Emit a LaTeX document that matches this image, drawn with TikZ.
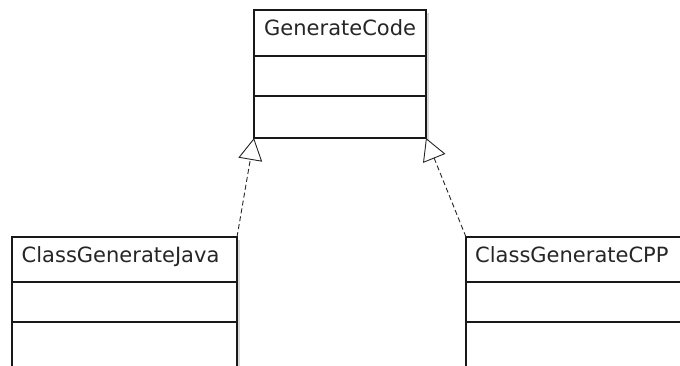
\documentclass[tikz,border=0pt]{standalone}
\usepackage{fontspec}
\setmainfont{DejaVu Sans}
\usetikzlibrary{arrows.meta}
\begin{document}
\begin{tikzpicture}[x=1pt,y=-1pt,
  classbox/.style={draw=black!90, line width=1.4pt, fill=white, anchor=north west,
    inner sep=0pt, outer sep=0pt},
  classname/.style={anchor=base west, inner sep=0pt, text=black!85,
    font=\fontsize{21}{24}\selectfont},
  shadowstrip/.style={fill=black!15, draw=none},
  divider/.style={draw=black!90, line width=1.4pt},
  realize/.style={draw=black!85, line width=0.9pt, dash pattern=on 5pt off 3pt,
    -{Triangle[open, length=22pt, width=24pt, line width=0.9pt, fill=white]}}
]
\clip (0,0) rectangle (680,365);
\useasboundingbox (0,0) rectangle (680,365);

% GenerateCode
\fill[shadowstrip] (426,13) rectangle (429,141);
\node[classbox, minimum width=172pt, minimum height=128pt] (gc) at (254,10) {};
\node[classname] (gcname) at (264,35) {GenerateCode};
\draw[divider] (254,56) -- (426,56);
\draw[divider] (254,96) -- (426,96);

% ClassGenerateJava
\fill[shadowstrip] (237,240) rectangle (240,380);
\node[classbox, minimum width=225pt, minimum height=145pt] (java) at (12,237) {};
\node[classname] (javaname) at (21.5,262) {ClassGenerateJava};
\draw[divider] (12,282) -- (237,282);
\draw[divider] (12,322) -- (237,322);

% ClassGenerateCPP
\node[classbox, minimum width=240pt, minimum height=145pt] (cpp) at (466,237) {};
\node[classname] (cppname) at (475,262) {ClassGenerateCPP};
\draw[divider] (466,282) -- (706,282);
\draw[divider] (466,322) -- (706,322);

% realization connectors
\draw[realize] (java.north east) -- (gc.south west);
\draw[realize] (cpp.north west) -- (gc.south east);
\end{tikzpicture}
\end{document}
